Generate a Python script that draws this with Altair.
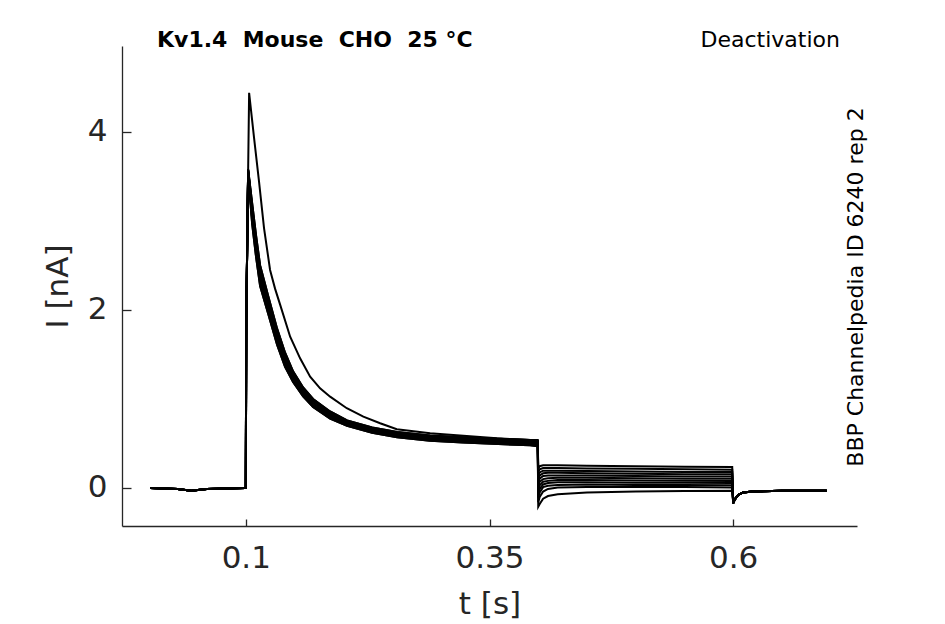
import altair as alt
import pandas as pd

# --- sweeps (time in s, current in nA) ---
t_base = [0.002, 0.03, 0.044, 0.06, 0.0995]
i_base = [0.0, -0.01, -0.03, -0.01, 0.0]

# first sweep, larger peak
t_upper = [0.1, 0.1005, 0.1034, 0.1085, 0.1136, 0.1187, 0.1249, 0.13, 0.1352,
           0.1455, 0.1557, 0.166, 0.1762, 0.1865, 0.2036, 0.2206, 0.2378,
           0.2549, 0.2891, 0.3232, 0.3575, 0.3917, 0.3995]
i_upper = [0.0, 1.9, 4.44, 3.93, 3.44, 2.92, 2.45, 2.24, 2.06,
           1.70, 1.457, 1.251, 1.12, 1.026, 0.896, 0.801, 0.727,
           0.66, 0.615, 0.588, 0.558, 0.539, 0.54]

# the other sweeps (thick band)
t_bulk = [0.1, 0.1005, 0.1024, 0.1065, 0.1106, 0.1147, 0.1229, 0.1321,
          0.1403, 0.1485, 0.1588, 0.169, 0.1865, 0.2039, 0.2296, 0.2552,
          0.2891, 0.3229, 0.3917, 0.3995]
bulk_a = [0, 1.9, 3.58, 3.20, 2.83, 2.50, 2.16, 1.79, 1.52, 1.31, 1.13, 1.00,
          0.86, 0.76, 0.68, 0.63, 0.59, 0.57, 0.54, 0.53]
bulk_b = [0, 1.9, 3.57, 3.15, 2.77, 2.45, 2.11, 1.75, 1.48, 1.28, 1.11, 0.98,
          0.84, 0.745, 0.665, 0.615, 0.575, 0.555, 0.525, 0.515]
bulk_c = [0, 1.9, 3.57, 3.09, 2.71, 2.39, 2.06, 1.70, 1.44, 1.25, 1.08, 0.955,
          0.82, 0.73, 0.65, 0.60, 0.56, 0.54, 0.51, 0.50]
bulk_d = [0, 1.9, 3.55, 3.03, 2.65, 2.33, 2.01, 1.65, 1.40, 1.22, 1.05, 0.93,
          0.80, 0.715, 0.635, 0.585, 0.545, 0.525, 0.495, 0.485]
bulk_e = [0, 1.9, 3.53, 2.97, 2.59, 2.27, 1.96, 1.61, 1.36, 1.19, 1.03, 0.91,
          0.78, 0.70, 0.62, 0.57, 0.53, 0.51, 0.48, 0.47]

# deactivation step (tail currents)
t_tail = [0.4, 0.4015, 0.405, 0.41, 0.42, 0.45, 0.5, 0.55, 0.599]
tail_01 = [0.22, 0.245, 0.255, 0.255, 0.255, 0.25, 0.245, 0.24, 0.235]
tail_02 = [0.18, 0.21, 0.225, 0.225, 0.225, 0.22, 0.215, 0.21, 0.205]
tail_03 = [0.14, 0.175, 0.195, 0.195, 0.195, 0.19, 0.185, 0.18, 0.18]
tail_04 = [0.10, 0.14, 0.165, 0.17, 0.17, 0.165, 0.16, 0.155, 0.155]
tail_05 = [0.06, 0.105, 0.135, 0.14, 0.14, 0.14, 0.135, 0.13, 0.13]
tail_06 = [0.02, 0.07, 0.10, 0.11, 0.115, 0.115, 0.11, 0.105, 0.105]
tail_07 = [-0.03, 0.03, 0.07, 0.08, 0.09, 0.09, 0.085, 0.08, 0.08]
tail_08 = [-0.07, -0.01, 0.04, 0.055, 0.065, 0.065, 0.06, 0.06, 0.055]
tail_09 = [-0.11, -0.05, 0.01, 0.025, 0.035, 0.04, 0.035, 0.035, 0.03]
tail_10 = [-0.16, -0.10, -0.04, -0.01, 0.005, 0.01, 0.01, 0.01, 0.005]
tail_11 = [-0.21, -0.18, -0.12, -0.09, -0.07, -0.05, -0.04, -0.035, -0.03]

# back to holding
t_ret = [0.6, 0.6015, 0.605, 0.61, 0.62, 0.65, 0.696]
i_ret = [-0.17, -0.13, -0.08, -0.05, -0.04, -0.03, -0.03]

x_ticks = [0.1, 0.35, 0.6]
y_ticks = [0, 2, 4]

sweeps = [
    (t_upper, i_upper, tail_01),
    (t_bulk, bulk_a, tail_02),
    (t_bulk, bulk_a, tail_03),
    (t_bulk, bulk_b, tail_04),
    (t_bulk, bulk_b, tail_05),
    (t_bulk, bulk_c, tail_06),
    (t_bulk, bulk_c, tail_07),
    (t_bulk, bulk_d, tail_08),
    (t_bulk, bulk_d, tail_09),
    (t_bulk, bulk_e, tail_10),
    (t_bulk, bulk_e, tail_11),
]

rows = []
for k, (tp, ip, it) in enumerate(sweeps):
    ts = t_base + tp + t_tail + t_ret
    vs = i_base + ip + it + i_ret
    for n, (t, v) in enumerate(zip(ts, vs)):
        rows.append({"sweep": k, "n": n, "t": t, "I": v})
df = pd.DataFrame(rows)

FONT = "DejaVu Sans"
GREY = "#262626"

lines = alt.Chart(df).mark_line(color="black", strokeWidth=2).encode(
    x=alt.X("t:Q", title="t [s]",
            scale=alt.Scale(domain=[-0.027, 0.727], nice=False, zero=False),
            axis=alt.Axis(values=x_ticks, format=".2~f", grid=False,
                          tickSize=alt.ExprRef(expr="-7"), labelPadding=24,
                          titlePadding=16)),
    y=alt.Y("I:Q", title="I [nA]",
            scale=alt.Scale(domain=[-0.427, 4.966], nice=False, zero=False),
            axis=alt.Axis(values=y_ticks, grid=False,
                          tickSize=alt.ExprRef(expr="-9"), labelPadding=24,
                          titlePadding=13)),
    detail="sweep:N",
    order="n:Q",
)

notes = pd.DataFrame({
    "label": ["Kv1.4 \u00a0Mouse \u00a0CHO \u00a025 \u00b0C", "Deactivation",
              "BBP Channelpedia ID 6240 rep 2"],
})

title_txt = alt.Chart(notes.iloc[[0]]).mark_text(
    font=FONT, fontSize=22, fontWeight="bold", align="left",
    baseline="alphabetic", color="black"
).encode(x=alt.value(35), y=alt.value(1), text="label:N")

cond_txt = alt.Chart(notes.iloc[[1]]).mark_text(
    font=FONT, fontSize=22, align="right", baseline="alphabetic", color="black"
).encode(x=alt.value(718), y=alt.value(1), text="label:N")

side_txt = alt.Chart(notes.iloc[[2]]).mark_text(
    font=FONT, fontSize=22, align="center", baseline="middle", angle=270,
    color="black"
).encode(x=alt.value(734), y=alt.value(241), text="label:N")

chart = (
    alt.layer(lines, title_txt, cond_txt, side_txt)
    .properties(
        width=735, height=480,
        autosize=alt.AutoSizeParams(type="none"),
        padding={"left": 114, "top": 38, "right": 40, "bottom": 96},
    )
    .configure_view(stroke=None)
    .configure_axis(
        domainColor=GREY, domainWidth=1.3, tickColor=GREY, tickWidth=1.3,
        labelColor=GREY, titleColor=GREY, labelFont=FONT, titleFont=FONT,
        labelFontSize=31, titleFontSize=31, titleFontWeight="normal",
    )
)

chart.save("out.html", embed_options={"renderer": "svg", "actions": False})
